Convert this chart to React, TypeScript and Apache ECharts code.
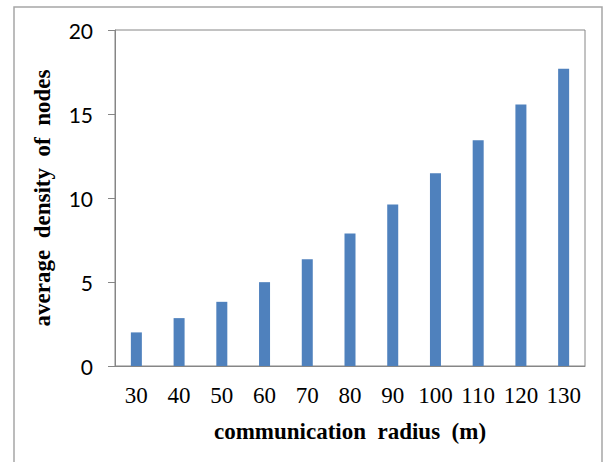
import React, { useEffect, useRef } from "react";
import * as echarts from "echarts";

const categories = ["30", "40", "50", "60", "70", "80", "90", "100", "110", "120", "130"];
const densityValues = [2.0, 2.85, 3.82, 4.99, 6.35, 7.89, 9.61, 11.48, 13.44, 15.56, 17.7];
const yTicks = { min: 0, max: 20, interval: 5 };
const xTitle = "communication  radius  (m)";
const yTitle = "average  density  of  nodes";

export default function App() {
  const ref = useRef<HTMLDivElement>(null);
  useEffect(() => {
    if (!ref.current) return;
    const chart = echarts.init(ref.current, null, { renderer: "svg" });
    const axisGray = "#868686";
    chart.setOption({
      animation: false,
      backgroundColor: "#ffffff",
      grid: {
        left: 115,
        right: 22,
        top: 30,
        bottom: 96,
        show: true,
        borderColor: axisGray,
        borderWidth: 1,
      },
      graphic: [
        {
          type: "rect",
          shape: { x: 14, y: 7, width: 588, height: 470 },
          style: { fill: "none", stroke: "#a6a6a6", lineWidth: 1.5 },
          silent: true,
        },
      ],
      xAxis: {
        type: "category",
        data: categories,
        axisLine: { show: true, lineStyle: { color: axisGray, width: 1 } },
        axisTick: { show: false },
        axisLabel: {
          color: "#000",
          fontFamily: "Liberation Serif",
          fontSize: 23,
          margin: 18,
          interval: 0,
        },
        name: xTitle,
        nameLocation: "middle",
        nameGap: 54,
        nameTextStyle: {
          color: "#000",
          fontFamily: "Liberation Serif",
          fontWeight: "bold",
          fontSize: 23,
        },
      },
      yAxis: {
        type: "value",
        min: yTicks.min,
        max: yTicks.max,
        interval: yTicks.interval,
        axisLine: { show: true, lineStyle: { color: axisGray, width: 1 } },
        axisTick: { show: true, inside: false, length: 7, lineStyle: { color: axisGray } },
        splitLine: { show: false },
        axisLabel: {
          color: "#000",
          fontFamily: "Lato",
          fontSize: 21,
          margin: 22,
        },
        name: yTitle,
        nameLocation: "middle",
        nameRotate: 90,
        nameGap: 61,
        nameTextStyle: {
          color: "#000",
          fontFamily: "Liberation Serif",
          fontWeight: "bold",
          fontSize: 23,
        },
      },
      series: [
        {
          type: "bar",
          data: densityValues,
          barWidth: 11,
          itemStyle: { color: "#4F81BD" },
        },
      ],
    });
    return () => chart.dispose();
  }, []);
  return (
    <div
      ref={ref}
      style={{ position: "fixed", left: 0, top: 0, width: 607, height: 462 }}
    />
  );
}
